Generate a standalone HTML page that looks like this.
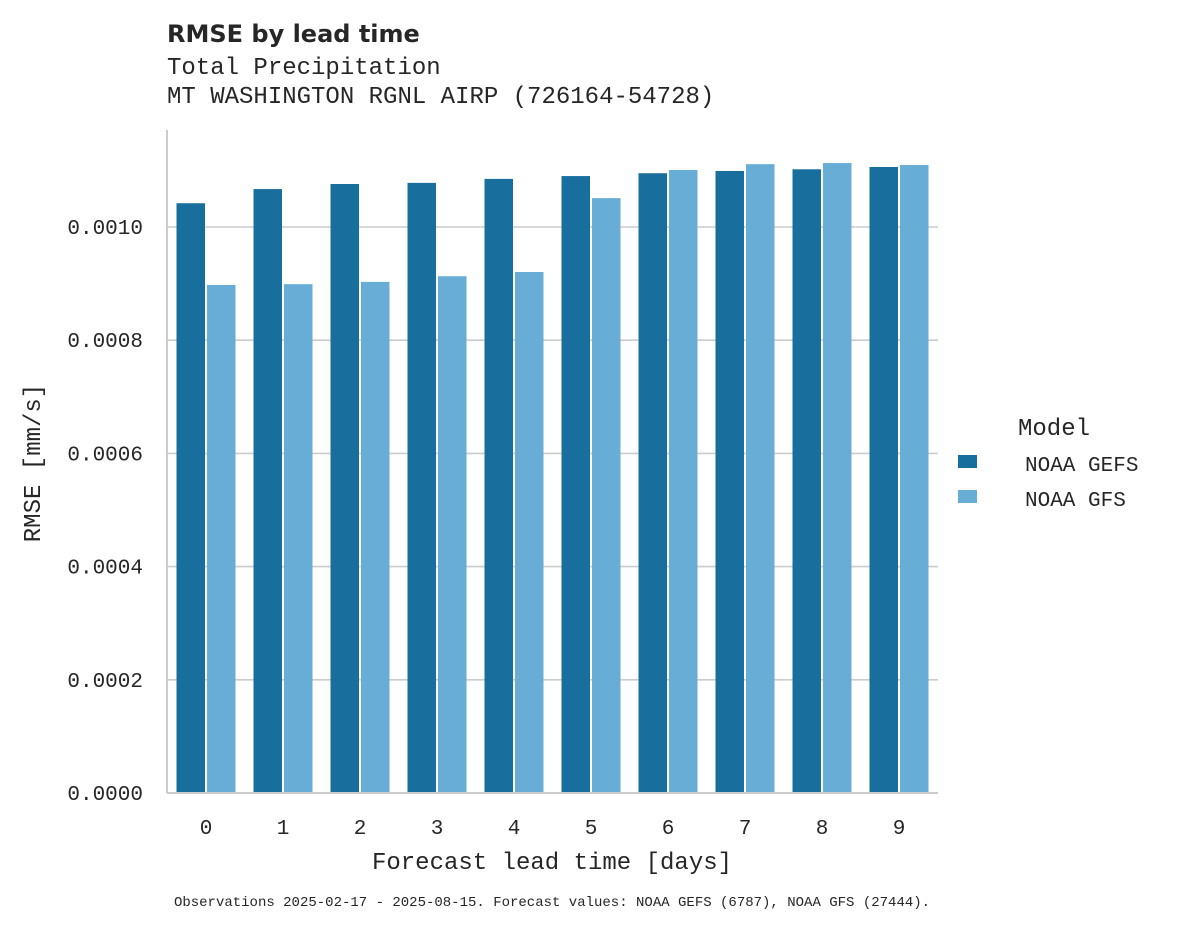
<!DOCTYPE html>
<html><head><meta charset="utf-8"><style>
body{margin:0;background:#fff;}
svg text{font-family:"Liberation Mono",monospace;fill:#262626;}
</style></head><body>
<svg width="1178" height="928">
<text x="167" y="42" style="font-family:'DejaVu Sans','Liberation Sans',sans-serif;font-weight:bold;font-size:24px">RMSE by lead time</text>
<text x="167" y="74" font-size="24">Total Precipitation</text>
<text x="167" y="103" font-size="24">MT WASHINGTON RGNL AIRP (726164-54728)</text>
<g id="grid"></g>
<g id="bars"></g>
<g id="yt"></g>
<g id="xt"></g>
<line x1="167" y1="130" x2="167" y2="793" stroke="#cccccc" stroke-width="2"/>
<line x1="167" y1="793" x2="938" y2="793" stroke="#cccccc" stroke-width="2"/>
<text x="552" y="869" font-size="24" text-anchor="middle">Forecast lead time [days]</text>
<text transform="translate(40,463) rotate(-90)" font-size="24" text-anchor="middle">RMSE [mm/s]</text>
<g>
<text x="1018" y="435" font-size="24">Model</text>
<rect x="958" y="455" width="19" height="13" fill="#186f9e"/>
<text x="1025" y="471" font-size="21">NOAA GEFS</text>
<rect x="958" y="490" width="19" height="13" fill="#67add6"/>
<text x="1025" y="506" font-size="21">NOAA GFS</text>
</g>
<text x="552" y="906" font-size="14" text-anchor="middle">Observations 2025-02-17 - 2025-08-15. Forecast values: NOAA GEFS (6787), NOAA GFS (27444).</text>
</svg>
<script>
const categories=[0,1,2,3,4,5,6,7,8,9];
const gefs=[0.001042,0.001067,0.001076,0.001078,0.001085,0.001090,0.001095,0.001099,0.001102,0.001106];
const gfs=[0.0008975,0.000899,0.000903,0.000913,0.0009205,0.001051,0.0011007,0.001111,0.001113,0.0011095];
const yTicks=[0,0.0002,0.0004,0.0006,0.0008,0.0010];
const yTickLabels=["0.0000","0.0002","0.0004","0.0006","0.0008","0.0010"];
const NS="http://www.w3.org/2000/svg";
const y=v=>793-v*566000;
const x=i=>206+i*77;
const bw=28.5;
function mk(t,a){const e=document.createElementNS(NS,t);for(const k in a)e.setAttribute(k,a[k]);return e;}
const grid=document.getElementById('grid'),yt=document.getElementById('yt'),xt=document.getElementById('xt'),bars=document.getElementById('bars');
yTicks.forEach((v,i)=>{
 if(v>0){const l=mk('line',{x1:167,x2:938,y1:y(v),y2:y(v),stroke:'#cccccc','stroke-width':1.6});
 
 
 grid.appendChild(l);}
 const t=mk('text',{x:143,y:y(v)+7,'font-size':21,'text-anchor':'end'});t.textContent=yTickLabels[i];
 
 
 yt.appendChild(t);
});
categories.forEach((c,i)=>{
 const a=mk('rect',{x:x(i)-bw-1,y:y(gefs[i]),width:bw,height:793-y(gefs[i]),fill:'#186f9e'});
 
 
 bars.appendChild(a);
 const b=mk('rect',{x:x(i)+1,y:y(gfs[i]),width:bw,height:793-y(gfs[i]),fill:'#67add6'});
 
 
 bars.appendChild(b);
 const t=mk('text',{x:x(i),y:834,'font-size':21,'text-anchor':'middle'});t.textContent=c;
 
 
 xt.appendChild(t);
});
</script>
</body></html>
